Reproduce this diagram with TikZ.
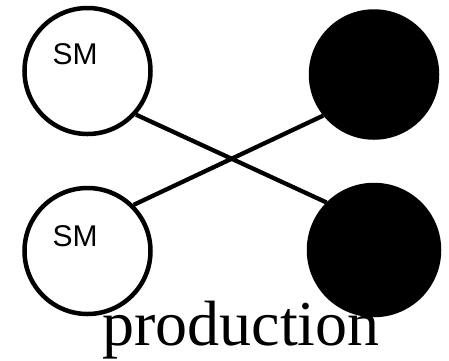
\documentclass[tikz,border=0pt]{standalone}
\usepackage{fontspec}
\setmainfont{Liberation Serif}
\newfontfamily\labelfont{Liberation Sans}

\begin{document}
\begin{tikzpicture}[x=1pt, y=-1pt]
    \tikzset{
        particle/.style={circle, draw, line width=4.5pt, minimum size=126pt, inner sep=0pt},
        heavy/.style={particle, fill=black},
        smlabel/.style={font=\labelfont\fontsize{30}{30}\selectfont, inner sep=0pt}
    }
    \useasboundingbox (0,0) rectangle (449,360);

    % incoming SM states on the left, produced states on the right
    \node [particle] (smtop) at (87.5, 71) {};
    \node [particle] (smbot) at (87.5, 251) {};
    \node [heavy] (outtop) at (374, 74.5) {};
    \node [heavy, minimum size=130pt] (outbot) at (374, 250) {};

    \node [smlabel] (smtoptext) at (75, 54) {SM};
    \node [smlabel] (smbottext) at (75, 236.5) {SM};

    \draw [line width=4.3pt] (smtop.-42) -- (outbot.135);
    \draw [line width=4.3pt] (smbot.45) -- (outtop.-141);

    \node [anchor=base, inner sep=0pt, font=\fontsize{64}{64}\selectfont] (prodtext) at (241, 345) {production};
\end{tikzpicture}
\end{document}
